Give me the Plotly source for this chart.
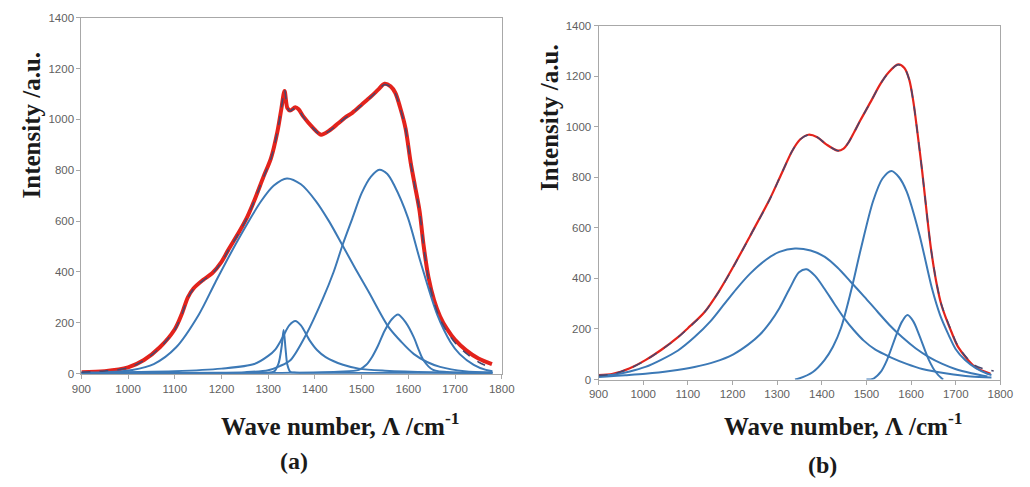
import plotly.graph_objects as go

# ---------------- Panel (a) ----------------
a_meas_x = [900, 950, 1000, 1034, 1068, 1100, 1115, 1128, 1140, 1160, 1180, 1200, 1214, 1240, 1256, 1270, 1290,
            1306, 1320, 1328, 1335, 1341, 1347, 1358, 1365, 1375, 1396, 1413, 1430, 1450, 1465, 1480, 1500,
            1520, 1536, 1549, 1562, 1572, 1582, 1594, 1605, 1614, 1624, 1633, 1643, 1655, 1668, 1682, 1700,
            1724, 1750, 1779]
a_meas_y = [6, 10, 25, 54, 104, 175, 235, 300, 335, 368, 395, 440, 485, 565, 620, 680, 775,
            848, 955, 1040, 1112, 1045, 1035, 1048, 1040, 1012, 967, 940, 955, 985, 1008, 1026, 1058,
            1090, 1118, 1140, 1130, 1105, 1050, 965, 830, 740, 640, 500, 380, 290, 225, 178, 133,
            92, 60, 38]

a_fit_x = [900, 950, 1000, 1034, 1068, 1100, 1115, 1128, 1140, 1160, 1180, 1200, 1214, 1240, 1256, 1270, 1290,
           1306, 1320, 1328, 1335, 1341, 1347, 1358, 1365, 1375, 1396, 1413, 1430, 1450, 1465, 1480, 1500,
           1520, 1536, 1549, 1562, 1572, 1582, 1594, 1605, 1614, 1624, 1633, 1643, 1655, 1668, 1682, 1700,
           1724, 1750, 1779]
a_fit_y = [6, 11, 23, 52, 102, 172, 232, 298, 333, 366, 393, 438, 483, 563, 618, 678, 773,
           846, 955, 1042, 1116, 1045, 1033, 1046, 1038, 1010, 965, 940, 953, 983, 1006, 1024, 1056,
           1088, 1116, 1137, 1128, 1103, 1048, 963, 828, 738, 638, 498, 375, 282, 215, 168, 122,
           80, 46, 22]

a_c1_x = [900, 950, 1009, 1055, 1103, 1151, 1187, 1235, 1285, 1312, 1340, 1370, 1402, 1430, 1459, 1487, 1515,
          1557, 1585, 1612, 1640, 1668, 1720, 1780]
a_c1_y = [2, 5, 15, 38, 104, 231, 360, 525, 679, 740, 768, 745, 679, 600, 505, 412, 322,
          185, 125, 77, 46, 27, 10, 5]

a_c2_x = [900, 1200, 1250, 1300, 1325, 1348, 1381, 1417, 1440, 1459, 1480, 1500, 1520, 1538, 1555, 1570, 1599,
          1626, 1662, 1690, 1710, 1740, 1766, 1780]
a_c2_y = [2, 4, 6, 14, 30, 54, 153, 295, 400, 505, 610, 710, 775, 802, 785, 740, 614,
          440, 231, 125, 77, 35, 15, 10]

a_c3_x = [900, 1100, 1250, 1300, 1312, 1322, 1329, 1333, 1337, 1341, 1347, 1360, 1500, 1780]
a_c3_y = [3, 3, 3, 4, 8, 40, 110, 172, 100, 35, 8, 4, 3, 3]

a_c4_x = [900, 1100, 1200, 1270, 1300, 1315, 1330, 1345, 1358, 1370, 1389, 1405, 1423, 1460, 1494, 1550, 1650,
          1780]
a_c4_y = [5, 10, 20, 38, 70, 95, 140, 190, 207, 190, 130, 92, 65, 35, 20, 12, 6, 4]

a_c5_x = [900, 1300, 1450, 1494, 1510, 1522, 1535, 1549, 1565, 1578, 1595, 1612, 1622, 1632, 1653, 1700, 1780]
a_c5_y = [3, 3, 8, 15, 35, 65, 110, 168, 215, 233, 200, 142, 95, 54, 15, 5, 3]

# ---------------- Panel (b) ----------------
b_meas_x = [900, 932, 970, 1005, 1040, 1078, 1100, 1136, 1170, 1202, 1240, 1283, 1310, 1334, 1352, 1370, 1390,
            1410, 1436, 1448, 1460, 1473, 1487, 1510, 1531, 1550, 1571, 1585, 1596, 1605, 1614, 1625, 1635,
            1644, 1656, 1668, 1690, 1706, 1743, 1778]
b_meas_y = [18, 23, 45, 77, 117, 168, 203, 264, 350, 447, 570, 712, 815, 905, 950, 968, 958,
            930, 905, 912, 938, 980, 1027, 1100, 1168, 1215, 1246, 1232, 1185, 1100, 980, 821, 660,
            525, 390, 295, 190, 127, 50, 23]

b_fit_x = [900, 932, 970, 1005, 1040, 1078, 1100, 1136, 1170, 1202, 1240, 1283, 1310, 1334, 1352, 1370, 1390,
           1410, 1436, 1448, 1460, 1473, 1487, 1510, 1531, 1550, 1571, 1585, 1596, 1605, 1614, 1625, 1635,
           1644, 1656, 1668, 1690, 1706, 1743, 1785]
b_fit_y = [16, 22, 44, 76, 116, 167, 202, 263, 349, 446, 569, 711, 815, 905, 950, 967, 958,
           930, 905, 912, 938, 980, 1027, 1100, 1168, 1215, 1245, 1232, 1185, 1100, 980, 821, 660,
           525, 392, 297, 193, 130, 56, 34]

b_c1_x = [900, 932, 970, 1005, 1040, 1078, 1115, 1151, 1180, 1209, 1240, 1275, 1305, 1340, 1375, 1406, 1435,
          1465, 1495, 1524, 1552, 1581, 1610, 1640, 1670, 1699, 1735, 1771]
b_c1_y = [15, 19, 32, 50, 78, 115, 168, 231, 295, 359, 420, 474, 505, 518, 510, 486, 443,
          386, 328, 270, 215, 166, 124, 89, 62, 42, 25, 12]

b_c2_x = [900, 918, 960, 1005, 1060, 1115, 1160, 1202, 1235, 1261, 1285, 1305, 1328, 1349, 1366, 1385, 1406,
          1428, 1450, 1472, 1494, 1520, 1553, 1590, 1625, 1680, 1734, 1780]
b_c2_y = [10, 12, 17, 23, 34, 50, 70, 100, 138, 177, 228, 282, 360, 424, 436, 410, 359,
          300, 243, 195, 154, 118, 89, 62, 42, 24, 12, 8]

b_c3_x = [1340, 1349, 1380, 1406, 1425, 1443, 1465, 1487, 1515, 1536, 1556, 1573, 1590, 1618, 1647, 1665, 1684,
          1700, 1721, 1745, 1771, 1780]
b_c3_y = [0, 4, 30, 77, 130, 204, 347, 513, 706, 795, 825, 800, 744, 578, 359, 255, 177,
          120, 77, 45, 23, 18]

b_c4_x = [1500, 1516, 1532, 1546, 1567, 1580, 1592, 1605, 1618, 1640, 1655, 1669, 1672]
b_c4_y = [0, 4, 30, 77, 177, 230, 255, 230, 177, 77, 30, 4, 0]

# tick values
x_ticks = [900, 1000, 1100, 1200, 1300, 1400, 1500, 1600, 1700, 1800]
y_ticks = [0, 200, 400, 600, 800, 1000, 1200, 1400]

RED = "#e3231c"
FIT = "#45476f"
COMP = "#3c79b6"
SMOOTH = 0.85

fig = go.Figure()


def add_panel(meas_x, meas_y, fit_x, fit_y, comps, xa, ya, red_w):
    fig.add_trace(go.Scatter(x=meas_x, y=meas_y, mode="lines",
                             line=dict(color=RED, width=red_w, shape="spline", smoothing=SMOOTH),
                             xaxis=xa, yaxis=ya, showlegend=False))
    for cx, cy in comps:
        fig.add_trace(go.Scatter(x=cx, y=cy, mode="lines",
                                 line=dict(color=COMP, width=2, shape="spline", smoothing=SMOOTH),
                                 xaxis=xa, yaxis=ya, showlegend=False))
    fig.add_trace(go.Scatter(x=fit_x, y=fit_y, mode="lines",
                             line=dict(color=FIT, width=1.5, dash="dash", shape="spline", smoothing=SMOOTH),
                             xaxis=xa, yaxis=ya, showlegend=False))


add_panel(a_meas_x, a_meas_y, a_fit_x, a_fit_y,
          [(a_c1_x, a_c1_y), (a_c2_x, a_c2_y), (a_c3_x, a_c3_y), (a_c4_x, a_c4_y), (a_c5_x, a_c5_y)],
          "x", "y", 4)
add_panel(b_meas_x, b_meas_y, b_fit_x, b_fit_y,
          [(b_c1_x, b_c1_y), (b_c2_x, b_c2_y), (b_c3_x, b_c3_y), (b_c4_x, b_c4_y)],
          "x2", "y2", 2.2)

W, H = 1030, 487
axis_common = dict(showgrid=False, zeroline=False, showline=True, linecolor="#a8a8a8", linewidth=1,
                   mirror=True, ticks="outside", ticklen=4, tickcolor="#a8a8a8",
                   tickfont=dict(family="Liberation Sans, Arial", size=11.5, color="#5f5f5f"))

fig.update_layout(
    width=W, height=H, margin=dict(l=0, r=0, t=0, b=0),
    paper_bgcolor="white", plot_bgcolor="white",
    xaxis=dict(domain=[73 / W, 503 / W], range=[900, 1800], tickvals=x_ticks, anchor="y", **axis_common),
    yaxis=dict(domain=[1 - 377 / H, 1 - 12 / H], range=[0, 1400], tickvals=y_ticks, anchor="x", **axis_common),
    xaxis2=dict(domain=[602 / W, 1013 / W], range=[900, 1800], tickvals=x_ticks, anchor="y2", **axis_common),
    yaxis2=dict(domain=[1 - 383 / H, 1 - 20 / H], range=[0, 1400], tickvals=y_ticks, anchor="x2", **axis_common),
)

serif = "Liberation Serif, Times New Roman, serif"


def ann(text, px, py, size, angle=0):
    fig.add_annotation(text=text, x=px / W, y=1 - py / H, xref="paper", yref="paper",
                       xanchor="center", yanchor="middle", showarrow=False, textangle=angle,
                       font=dict(family=serif, size=size, color="#1a1a1a"))


ann("<b>Wave number, Λ /cm<sup>-1</sup></b>", 338, 429, 25)
ann("<b>Wave number, Λ /cm<sup>-1</sup></b>", 853, 429, 25)
ann("<b>Intensity /a.u.</b>", 23, 122, 25, -90)
ann("<b>Intensity /a.u.</b>", 551, 114, 25, -90)
ann("<b>(a)</b>", 290, 466, 24)
ann("<b>(b)</b>", 831, 471, 24)

fig.write_html("out.html")
